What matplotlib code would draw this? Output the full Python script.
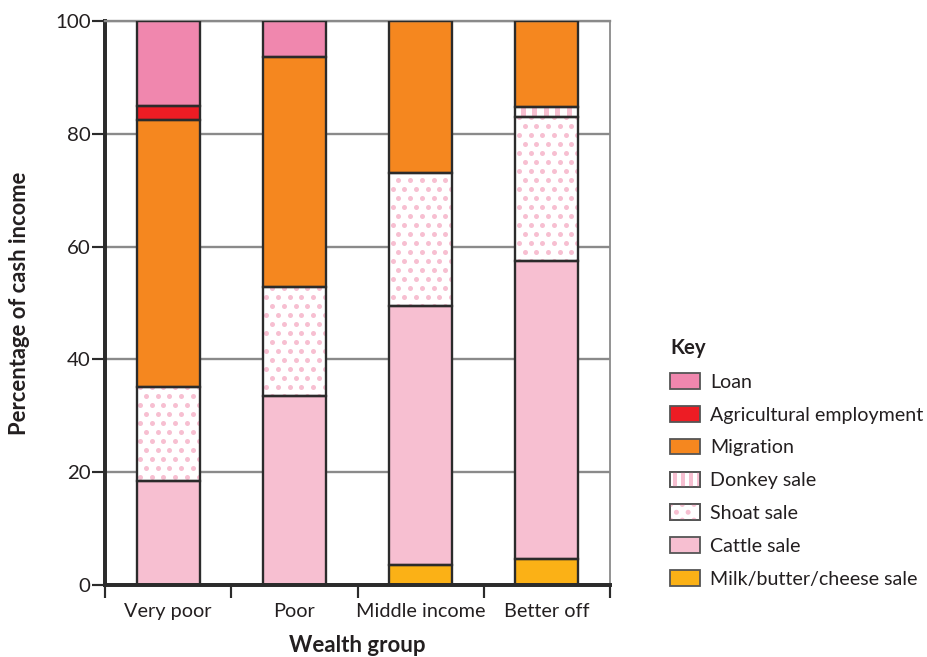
import matplotlib
matplotlib.use("Agg")
import matplotlib.pyplot as plt
import matplotlib.patches as mpatches
from matplotlib.legend_handler import HandlerBase
import numpy as np

# data (percent of cash income)
groups = ['Very poor', 'Poor', 'Middle income', 'Better off']
milk = [0, 0, 3.5, 4.6]
cattle = [18.4, 33.5, 46.0, 52.8]
shoat = [16.7, 19.3, 23.5, 25.6]
donkey = [0, 0, 0, 1.8]
migration = [47.3, 40.8, 27.0, 15.2]
agri = [2.5, 0, 0, 0]
loan = [15.1, 6.4, 0, 0]
yticks = [0, 20, 40, 60, 80, 100]

plt.rcParams['font.family'] = ['Lato', 'DejaVu Sans']
TXT = '#231f20'
EDGE = '#2b2b2b'
PINK = '#f7bfd1'

# (label, values, face, texture) bottom -> top
series = [
    ('Milk/butter/cheese sale', milk, '#fbb116', None),
    ('Cattle sale', cattle, PINK, None),
    ('Shoat sale', shoat, 'white', 'dots'),
    ('Donkey sale', donkey, 'white', 'stripes'),
    ('Migration', migration, '#f5871f', None),
    ('Agricultural employment', agri, '#ed1c24', None),
    ('Loan', loan, '#f087ae', None),
]

DPI = 130
PT = 72 / DPI          # points per pixel
DOT_DX, DOT_DY, DOT_D = 11.7, 9.0, 5.0   # dot pattern, pixels
STRIPE_P, STRIPE_W = 11.6, 5.0          # stripe pattern, pixels

fig = plt.figure(figsize=(927 / DPI, 657 / DPI), dpi=DPI)
ax = fig.add_axes([105 / 927, 1 - 585 / 657, 505 / 927, 564 / 657])
ax.set_xlim(-0.5, len(groups) - 0.5)
ax.set_ylim(0, 100)
px_x = 505 / len(groups)   # pixels per x unit
px_y = 564 / 100           # pixels per y unit


def texture(rect, kind):
    x0, y0 = rect.get_xy()
    w, h = rect.get_width(), rect.get_height()
    if kind == 'dots':
        dx, dy = DOT_DX / px_x, DOT_DY / px_y
        rows = np.arange(0, 100 + dy, dy)
        rows = rows[(rows > y0 - dy) & (rows < y0 + h + dy)]
        xs, ys = [], []
        for r in rows:
            shift = (dx / 2) * (int(round(r / dy)) % 2)
            cols = np.arange(x0 + 0.3 * dx + shift - dx, x0 + w + dx, dx)
            xs.extend(cols)
            ys.extend([r] * len(cols))
        sc = ax.scatter(xs, ys, s=(DOT_D * PT) ** 2, color=PINK, lw=0, zorder=2.5)
        sc.set_clip_path(rect)
    else:
        p = STRIPE_P / px_x
        xs = np.arange(x0 + 0.45 * p, x0 + w, p)
        st = ax.bar(xs, h, bottom=y0, width=STRIPE_W / px_x, color=PINK,
                    lw=0, zorder=2.5, align='edge')
        for s in st:
            s.set_clip_path(rect)


class TextureHandler(HandlerBase):
    def __init__(self, kind):
        super().__init__()
        self.kind = kind

    def create_artists(self, legend, orig_handle, xdescent, ydescent, width,
                       height, fontsize, trans):
        x0, y0 = -xdescent, -ydescent
        box = mpatches.Rectangle((x0, y0), width, height, facecolor='white',
                                 edgecolor='#555555', lw=1.0, transform=trans)
        arts = []
        if self.kind == 'dots':
            r = DOT_D * PT / 2
            dx = DOT_DX * PT
            for cx in np.arange(x0 + dx * 0.55, x0 + width, dx):
                arts.append(mpatches.Circle((cx, y0 + height / 2), r,
                                            color=PINK, lw=0, transform=trans))
            for cx in np.arange(x0 + dx * 0.05, x0 + width, dx):
                for cy in (y0, y0 + height):
                    arts.append(mpatches.Circle((cx, cy), r, color=PINK, lw=0,
                                                transform=trans))
        else:
            p = STRIPE_P * PT * 0.7
            for sx in np.arange(x0 + p * 0.35, x0 + width - 1, p):
                arts.append(mpatches.Rectangle((sx, y0), STRIPE_W * PT * 0.75,
                                               height, color=PINK, lw=0,
                                               transform=trans))
        for a in arts:
            a.set_clip_path(box)
        edge = mpatches.Rectangle((x0, y0), width, height, fill=False,
                                  edgecolor='#555555', lw=1.0, transform=trans)
        return [box] + arts + [edge]


x = np.arange(len(groups))
bottom = np.zeros(len(groups))
handles, labels, hmap = [], [], {}
for label, vals, face, kind in series:
    vals = np.asarray(vals, dtype=float)
    nz = vals > 0
    fill = ax.bar(x[nz], vals[nz], bottom=bottom[nz], width=0.5, color=face,
                  linewidth=0, zorder=2)
    if kind:
        for p in fill:
            texture(p, kind)
    ax.bar(x[nz], vals[nz], bottom=bottom[nz], width=0.5, fill=False,
           edgecolor=EDGE, linewidth=1.3, zorder=3)
    h = mpatches.Patch(facecolor=face, edgecolor='#555555', linewidth=1.0)
    if kind:
        hmap[h] = TextureHandler(kind)
    handles.append(h)
    labels.append(label)
    bottom += vals

ax.set_yticks(yticks)
ax.set_xticks(x)
ax.set_xticklabels(groups)
ax.set_xticks(np.arange(-0.5, len(groups)), minor=True)
ax.tick_params(axis='x', which='major', length=0, pad=10, labelsize=11, labelcolor=TXT)
ax.tick_params(axis='x', which='minor', length=7, width=1.2, color=EDGE, direction='out')
ax.tick_params(axis='y', length=7, width=1.2, color=EDGE, pad=1, labelsize=11.3, labelcolor=TXT)

ax.yaxis.grid(True, color='#8a8a8a', linewidth=1.3, zorder=0)
ax.set_axisbelow(True)
ax.spines['left'].set_linewidth(2.2)
ax.spines['left'].set_color(EDGE)
ax.spines['bottom'].set_linewidth(2.2)
ax.spines['bottom'].set_color(EDGE)
ax.spines['top'].set_color('#8a8a8a')
ax.spines['top'].set_linewidth(1.3)
ax.spines['right'].set_color('#8a8a8a')
ax.spines['right'].set_linewidth(1.0)

fig.text(20 / 927, 1 - 303 / 657, 'Percentage of cash income', rotation=90,
         ha='center', va='center', fontsize=12.2, fontweight='bold', color=TXT)
fig.text(357 / 927, 1 - 645 / 657, 'Wealth group', ha='center', va='center',
         fontsize=12.3, fontweight='bold', color=TXT)

leg = fig.legend(handles[::-1], labels[::-1], handler_map=hmap,
                 loc='upper left', bbox_to_anchor=(670 / 927, 1 - 338 / 657),
                 frameon=False, fontsize=10.9, title='Key', alignment='left',
                 handlelength=1.5, handleheight=0.85, handletextpad=0.55,
                 labelspacing=0.77, borderaxespad=0, borderpad=0)
leg.get_title().set_fontweight('bold')
leg.get_title().set_fontsize(11.3)
leg.get_title().set_color(TXT)
for t in leg.get_texts():
    t.set_color(TXT)

fig.savefig('out.png', dpi=DPI)
